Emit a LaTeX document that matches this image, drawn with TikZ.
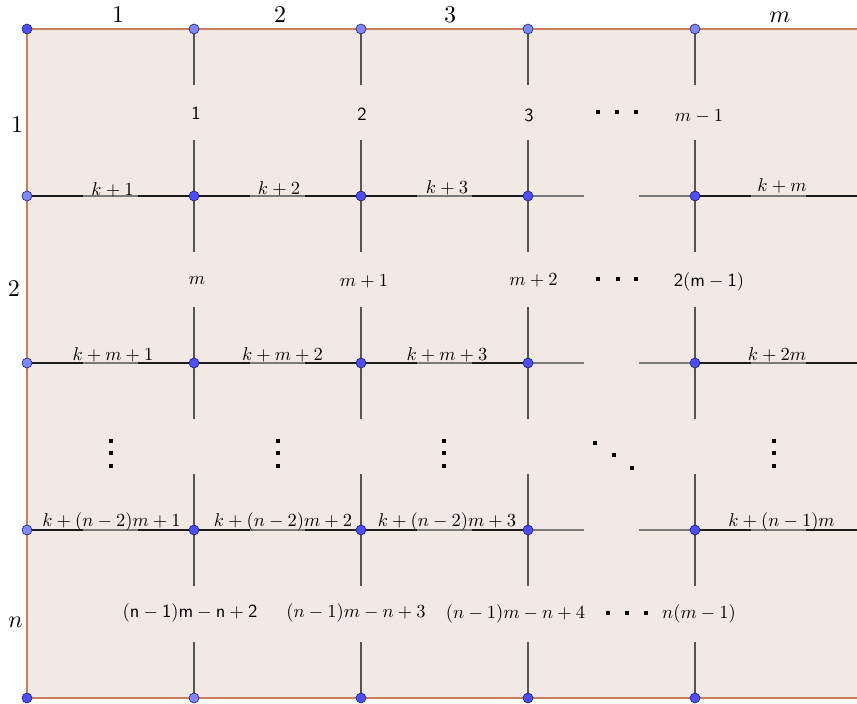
\documentclass[tikz,border=0pt]{standalone}
\usepackage{graphicx}
\usetikzlibrary{calc}
\definecolor{bgfill}{HTML}{F2E9E5}
\definecolor{framec}{HTML}{C8805A}
\definecolor{vgray}{HTML}{555555}
\definecolor{hgray}{HTML}{7A7A7A}
\definecolor{hdark}{HTML}{1A1A1A}
\definecolor{ptdark}{HTML}{4D4DFF}
\definecolor{ptlight}{HTML}{7D87FF}
\definecolor{ptedge}{HTML}{202060}
\newcommand{\Lb}[1]{\scalebox{1.85}{#1}}
\newcommand{\Bg}[1]{\scalebox{2.4}{#1}}
\begin{document}
\begin{tikzpicture}[x=1pt,y=-1pt,
  lbl/.style={inner sep=0pt, anchor=base},
  vseg/.style={draw=vgray, line width=2pt},
  hdk/.style={draw=hdark, line width=2.2pt},
  hlt/.style={draw=hgray, line width=2pt},
  pt/.style={circle, fill=ptdark, draw=ptedge, line width=0.6pt, minimum size=10pt, inner sep=0pt},
  ptl/.style={pt, fill=ptlight},
  dotsq/.style={rectangle, fill=black, minimum size=4pt, inner sep=0pt}]

\useasboundingbox (0,0) rectangle (857,704);
\clip (0,0) rectangle (857,704);

\foreach \i/\x in {0/27,1/194,2/361,3/528,4/695,5/862}
  \foreach \j/\y in {0/29,1/196,2/363,3/530,4/698}
    \coordinate (v\i\j) at (\x,\y);

% frame
\fill[bgfill] (v00) rectangle (v54);
\draw[framec, line width=2pt] (v50) -- (v00) -- (v04) -- (v54);

% vertical edges (outer thirds)
\foreach \i in {1,2,3,4}
  \foreach \j/\k in {0/1,1/2,2/3,3/4} {
    \draw[vseg] (v\i\j) -- ($(v\i\j)!1/3!(v\i\k)$);
    \draw[vseg] ($(v\i\j)!2/3!(v\i\k)$) -- (v\i\k);
  }

% horizontal edges
\foreach \j in {1,2,3} {
  \foreach \a/\b in {0/1,1/2,2/3,4/5} {
    \draw[hlt] ($(v\a\j)!1/3!(v\b\j)$) -- ($(v\a\j)!2/3!(v\b\j)$);
    \draw[hdk] (v\a\j) -- ($(v\a\j)!1/3!(v\b\j)$);
    \draw[hdk] ($(v\a\j)!2/3!(v\b\j)$) -- (v\b\j);
  }
  \draw[hlt] (v3\j) -- ($(v3\j)!1/3!(v4\j)$);
  \draw[hlt] ($(v3\j)!2/3!(v4\j)$) -- (v4\j);
}

% points
\foreach \p in {00,04,24,34,44,11,21,31,41,12,22,32,42,13,23,33,43}
  \node[pt] (p\p) at (v\p) {};
\foreach \p in {10,20,30,40,01,02,03,14}
  \node[ptl] (p\p) at (v\p) {};

% top and side labels
\node[lbl] (t1) at (118,23) {\Bg{$1$}};
\node[lbl] (t2) at (280,23) {\Bg{$2$}};
\node[lbl] (t3) at (450,23) {\Bg{$3$}};
\node[lbl] (tm) at (780,23) {\Bg{$m$}};
\node[lbl] (s1) at (17,132) {\Bg{$1$}};
\node[lbl] (s2) at (14,296) {\Bg{$2$}};
\node[lbl] (sn) at (15.5,627) {\Bg{$n$}};

% vertical-edge labels
\node[lbl] (a11) at (196,119) {\Lb{$\mathsf{1}$}};
\node[lbl] (a21) at (362,120) {\Lb{$\mathsf{2}$}};
\node[lbl] (a31) at (529,121) {\Lb{$\mathsf{3}$}};
\node[lbl] (a41) at (699,121) {\Lb{$m-1$}};
\node[lbl] (a12) at (197,284) {\Lb{$m$}};
\node[lbl] (a22) at (364,286) {\Lb{$m+1$}};
\node[lbl] (a32) at (533.5,285) {\Lb{$m+2$}};
\node[lbl] (a42) at (709,286) {\Lb{$\mathsf{2(m-1)}$}};
\node[lbl] (a14) at (190,617) {\Lb{$\mathsf{(n-1)m-n+2}$}};
\node[lbl] (a24) at (356,617) {\Lb{$(n-1)m-n+3$}};
\node[lbl] (a34) at (515.5,618) {\Lb{$(n-1)m-n+4$}};
\node[lbl] (a44) at (699,618) {\Lb{$n(m-1)$}};

% horizontal-edge labels
\node[lbl] (b11) at (112.5,195) {\Lb{$k+1$}};
\node[lbl] (b21) at (279,194) {\Lb{$k+2$}};
\node[lbl] (b31) at (447,193) {\Lb{$k+3$}};
\node[lbl] (b51) at (782,191) {\Lb{$k+m$}};
\node[lbl] (b12) at (113,360) {\Lb{$k+m+1$}};
\node[lbl] (b22) at (282.5,360) {\Lb{$k+m+2$}};
\node[lbl] (b32) at (447,360) {\Lb{$k+m+3$}};
\node[lbl] (b52) at (777,360) {\Lb{$k+2m$}};
\node[lbl] (b13) at (111.5,526) {\Lb{$k+(n-2)m+1$}};
\node[lbl] (b23) at (283,526) {\Lb{$k+(n-2)m+2$}};
\node[lbl] (b33) at (447,526) {\Lb{$k+(n-2)m+3$}};
\node[lbl] (b53) at (781.5,526) {\Lb{$k+(n-1)m$}};

% horizontal dots
\foreach \x/\y/\n in {598/112/1,617/112/2,636/112/3,598/279/4,618/279/5,636/279/6,608/613/7,627/613/8,646/613/9}
  \node[dotsq] (h\n) at (\x,\y) {};
% vertical dots
\foreach \x/\c in {111/1,278/2,444/3,774/4}
  \foreach \y/\r in {441/1,453/2,466/3}
    \node[dotsq] (d\c\r) at (\x,\y) {};
% diagonal dots
\node[dotsq] (g1) at (595,443) {};
\node[dotsq] (g2) at (614,455) {};
\node[dotsq] (g3) at (632,468) {};
\end{tikzpicture}
\end{document}
